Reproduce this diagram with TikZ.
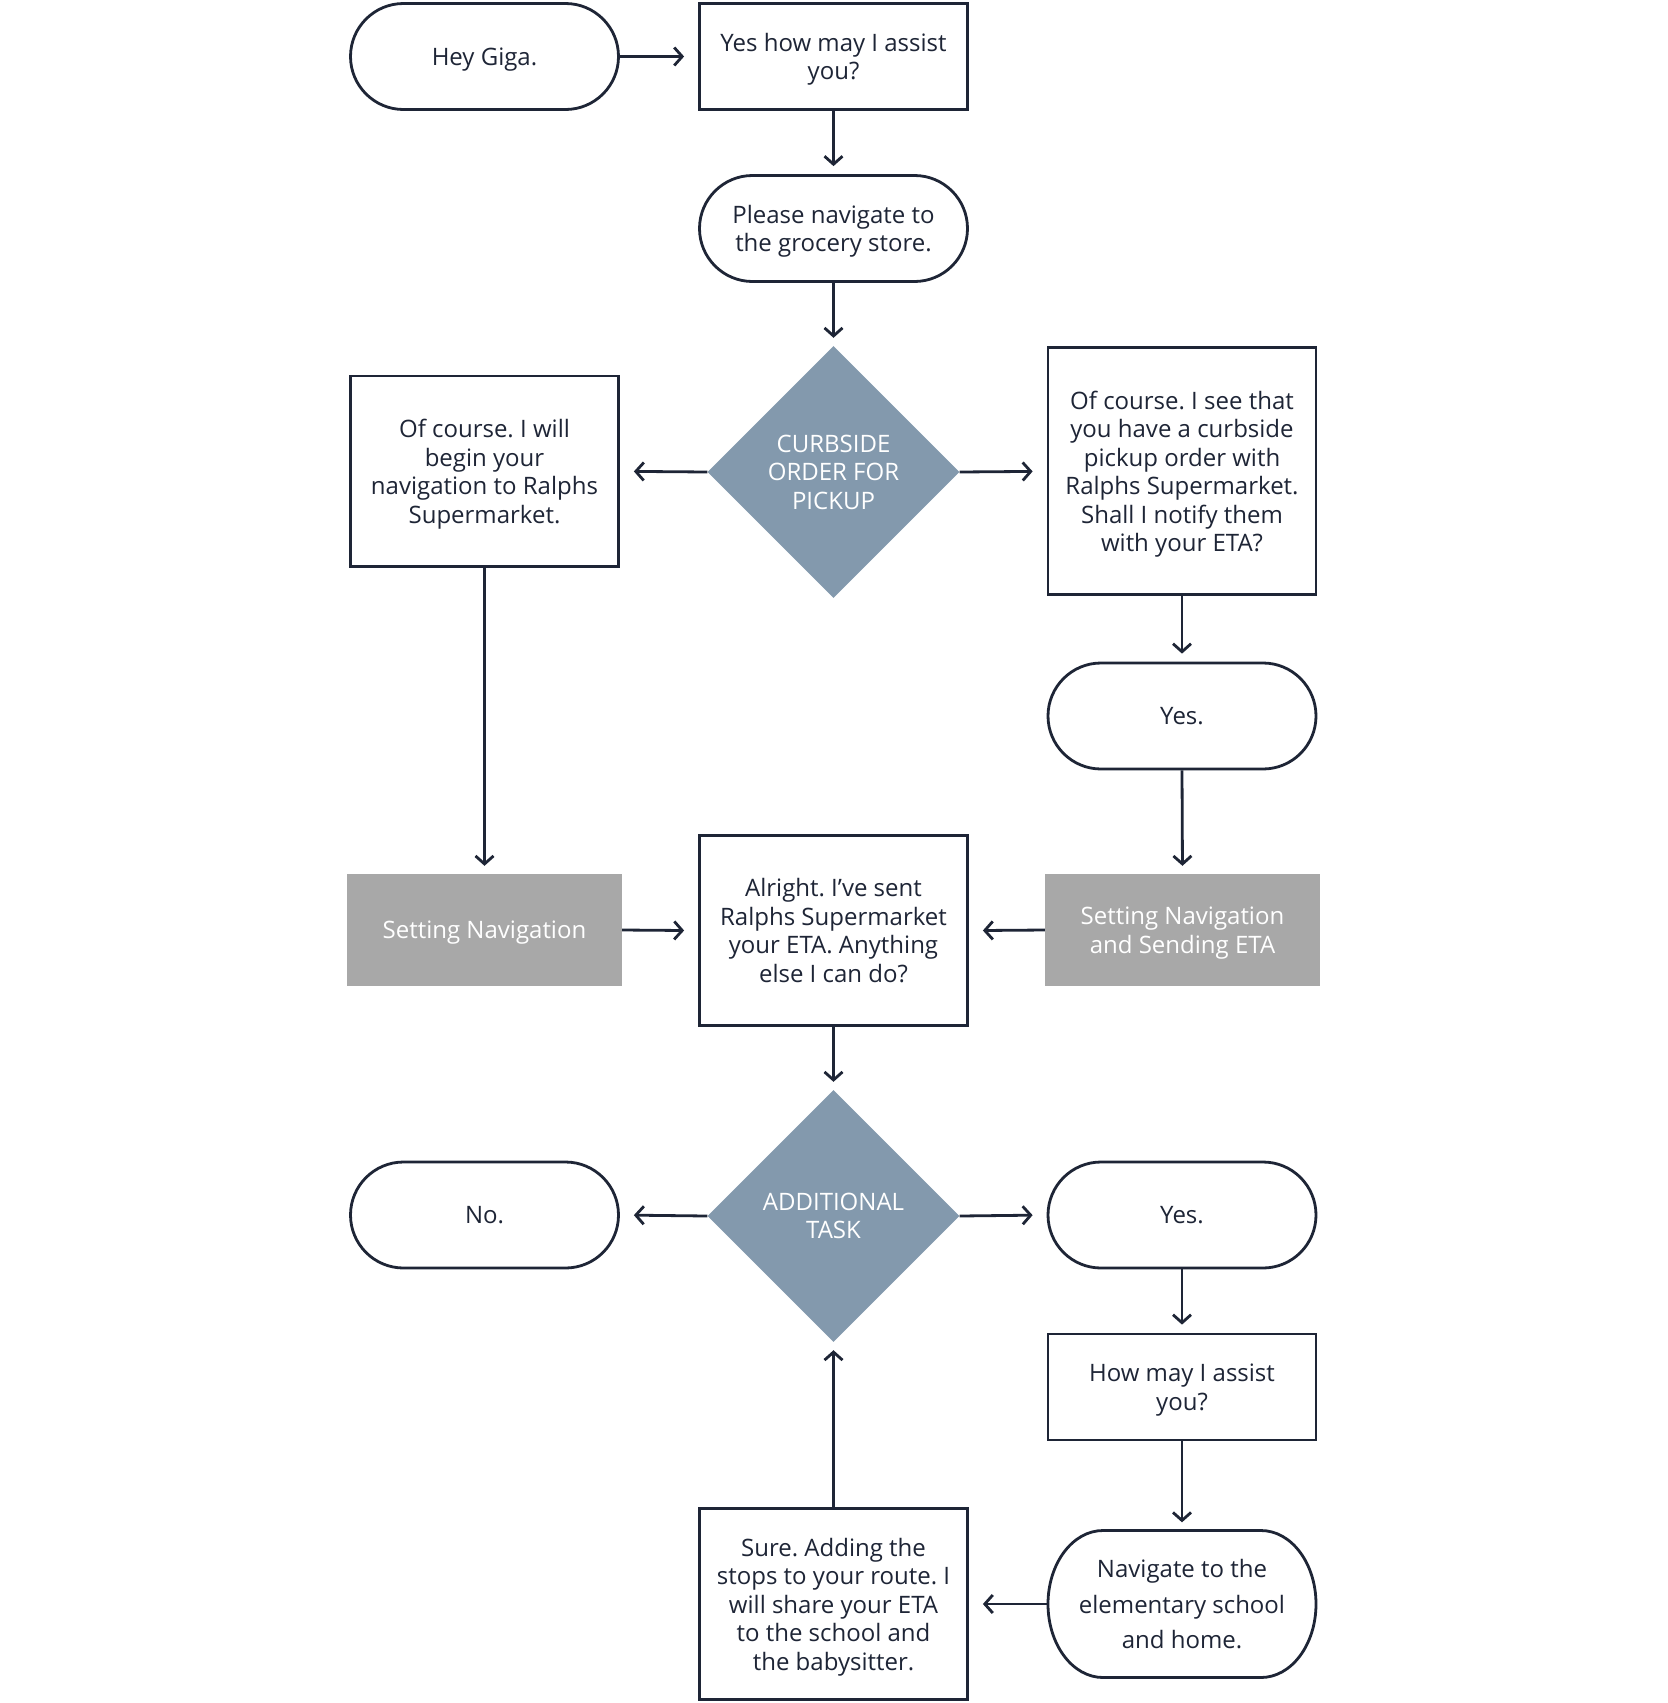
\documentclass[tikz,border=0pt]{standalone}
\usepackage{fontspec}
\setmainfont{Open Sans}
\frenchspacing
\usetikzlibrary{shapes.geometric,shapes.misc,arrows.meta}
\definecolor{ln}{HTML}{1E2536}
\definecolor{dia}{HTML}{8399AD}
\definecolor{gr}{HTML}{A8A8A8}
\begin{document}
\begin{tikzpicture}[x=1pt,y=-1pt,
  base/.style={font=\fontsize{24}{28.5}\selectfont, text=ln, align=center, inner sep=0pt, text depth=0pt},
  box/.style={base, draw=ln, line width=2.8pt, rectangle, minimum width=268pt},
  pill/.style={base, draw=ln, line width=2.8pt, rounded rectangle, minimum width=268pt, minimum height=106pt},
  graybox/.style={base, text=white, fill=gr, rectangle, minimum width=275pt, minimum height=112pt},
  decision/.style={base, text=white, fill=dia, diamond, minimum width=252pt, minimum height=252pt},
  arr/.style={draw=ln, line width=2.8pt, -{Straight Barb[length=8pt,width=18pt]}},
  harr/.style={arr, shorten >=14pt},
  varr/.style={arr, shorten >=8pt}]
\path[use as bounding box, fill=white] (0,0) rectangle (1668,1703);

% row 1
\node[pill] (hey) at (484.5,56.5) {Hey Giga.};
\node[box, minimum height=106pt] (yeshow) at (833.5,56.5) {Yes how may I assist\\you?};
\node[pill] (please) at (833.5,228.5) {Please navigate to\\the grocery store.};
% row 2
\node[decision] (d1) at (833.5,472) {CURBSIDE\\ORDER FOR\\PICKUP};
\node[box, minimum height=190.5pt] (oc1) at (484.5,471.3) {Of course. I will\\begin your\\navigation to Ralphs\\Supermarket.};
\node[box, minimum height=247pt] (oc2) at (1182,471.3) {Of course. I see that\\you have a curbside\\pickup order with\\Ralphs Supermarket.\\Shall I notify them\\with your ETA?};
\node[pill] (yes1) at (1182,716) {Yes.};
% row 3
\node[graybox] (setnav) at (484.5,930) {Setting Navigation};
\node[box, minimum height=190.5pt] (alright) at (833.5,930.6) {Alright. I’ve sent\\Ralphs Supermarket\\your ETA. Anything\\else I can do?};
\node[graybox] (seteta) at (1182.5,930) {Setting Navigation\\and Sending ETA};
% row 4
\node[decision] (d2) at (833.5,1216) {ADDITIONAL\\TASK};
\node[pill] (no) at (484.5,1215) {No.};
\node[pill] (yes2) at (1182,1215) {Yes.};
\node[box, minimum height=106pt] (howmay) at (1182,1387) {How may I assist\\you?};
% row 5
\node[base, font=\fontsize{24}{35.8}\selectfont, minimum width=268pt, minimum height=147pt] (nav) at (1182,1604) {Navigate to the\\elementary school\\and home.};
\draw[ln, line width=2.8pt] (1103,1530.5) -- (1261,1530.5)
  .. controls (1291.4,1530.5) and (1316,1563.4) .. (1316,1604)
  .. controls (1316,1644.6) and (1291.4,1677.5) .. (1261,1677.5)
  -- (1103,1677.5)
  .. controls (1072.6,1677.5) and (1048,1644.6) .. (1048,1604)
  .. controls (1048,1563.4) and (1072.6,1530.5) .. (1103,1530.5) -- cycle;
\node[box, minimum height=190.5pt] (sure) at (833.5,1604) {Sure. Adding the\\stops to your route. I\\will share your ETA\\to the school and\\the babysitter.};

% connectors
\draw[harr] (hey.east) -- (yeshow.west);
\draw[varr] (yeshow.south) -- (please.north);
\draw[varr] (please.south) -- (d1.north);
\draw[harr] (d1.west) -- (oc1.east);
\draw[harr] (d1.east) -- (oc2.west);
\draw[varr] (oc2.south) -- (yes1.north);
\draw[varr] (oc1.south) -- (setnav.north);
\draw[varr] (yes1.south) -- (seteta.north);
\draw[harr] (setnav.east) -- (alright.west);
\draw[harr] (seteta.west) -- (alright.east);
\draw[varr] (alright.south) -- (d2.north);
\draw[harr] (d2.west) -- (no.east);
\draw[harr] (d2.east) -- (yes2.west);
\draw[varr] (yes2.south) -- (howmay.north);
\draw[varr] (howmay.south) -- (nav.north);
\draw[harr] (nav.west) -- (sure.east);
\draw[varr] (sure.north) -- (d2.south);
\end{tikzpicture}
\end{document}
